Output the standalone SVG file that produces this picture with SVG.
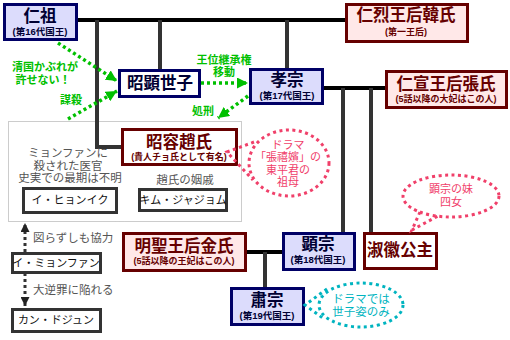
<svg xmlns="http://www.w3.org/2000/svg" width="510" height="340" viewBox="0 0 510 340">
<defs>
<style>
text{font-family:"Liberation Sans","Noto Sans CJK JP",sans-serif;text-anchor:middle;dominant-baseline:central}
.k{fill:#dcdcfc;stroke:#000066;stroke-width:3}
.w{fill:#fff;stroke:#000066;stroke-width:3}
.q{fill:#ffe8e8;stroke:#660000;stroke-width:3}
.wm{fill:#fff;stroke:#660000;stroke-width:3}
.gb{fill:#fff;stroke:#333;stroke-width:3}
.tk{font-size:16.5px;font-weight:700;fill:#000033}
.sk{font-size:9.5px;font-weight:700;fill:#000033}
.tq{font-size:16.5px;font-weight:700;fill:#660000}
.sq{font-size:9px;font-weight:700;fill:#660000}
.gt{font-size:11.5px;fill:#555}
.bt{font-size:11px;fill:#111}
.grn{font-size:11px;font-weight:700;fill:#00c000}
.pk{font-size:11px;fill:#f0406a}
.tl{font-size:11.5px;fill:#00b4c0}
.marry{stroke:#000;stroke-width:4;fill:none}
.child{stroke:#333;stroke-width:4;fill:none}
.ga{stroke:#00c000;stroke-width:3.5;stroke-dasharray:3 3;fill:none}
.ba{stroke:#333;stroke-width:3;stroke-dasharray:3 3;fill:none}
.pe{stroke:#f0406a;stroke-width:3;stroke-dasharray:3 3.5;fill:none}
.te{stroke:#00b4c0;stroke-width:3;stroke-dasharray:3 3.5;fill:none}
</style>
<marker id="mg" viewBox="0 0 10 10" refX="10" refY="5" markerWidth="11" markerHeight="11" markerUnits="userSpaceOnUse" orient="auto"><path d="M0,0L10,5L0,10z" fill="#00c000"/></marker>
<marker id="mb" viewBox="0 0 10 10" refX="10" refY="5" markerWidth="9" markerHeight="9" markerUnits="userSpaceOnUse" orient="auto"><path d="M0,0L10,5L0,10z" fill="#222"/></marker>
</defs>
<rect width="510" height="340" fill="#fff"/>

<rect x="8.5" y="121.5" width="233" height="100" fill="none" stroke="#999" stroke-width="1" stroke-dasharray="1 1"/>

<g id="connectors">
<path class="marry" d="M77 20H345"/>
<path class="child" d="M97 20V147H121"/>
<path class="child" d="M160 20V69"/>
<path class="child" d="M287 20V68"/>
<path class="marry" d="M323 88H385"/>
<path class="child" d="M343 88V232"/>
<path class="child" d="M371 88V232"/>
<path class="marry" d="M246 252H282"/>
<path class="child" d="M265 252V287"/>
<path class="ga" d="M58 43L117 81" marker-end="url(#mg)"/>
<path class="ga" d="M68 119L117 91" marker-end="url(#mg)"/>
<path class="ga" d="M201 83H248" marker-end="url(#mg)"/>
<path class="ga" d="M248 96L218 118" marker-end="url(#mg)"/>
<path class="ba" d="M25 252V223" marker-end="url(#mb)"/>
<path class="ba" d="M25 273V306" marker-end="url(#mb)"/>
</g>

<g id="labels">
<text class="grn" x="45" y="67">清国かぶれが</text>
<text class="grn" x="43" y="80">許せない！</text>
<text class="grn" x="71" y="100">謀殺</text>
<text class="grn" x="224" y="59.5">王位継承権</text>
<text class="grn" x="224" y="72">移動</text>
<text class="grn" x="203" y="111">処刑</text>
<text class="gt" x="68" y="153">ミョンファンに</text>
<text class="gt" x="68" y="165.5">殺された医官</text>
<text class="gt" x="70" y="178">史実での最期は不明</text>
<text class="gt" x="185" y="180">趙氏の姻戚</text>
<text class="gt" x="33" y="238" style="text-anchor:start">図らずしも協力</text>
<text class="gt" x="33" y="290" style="text-anchor:start">大逆罪に陥れる</text>
</g>

<g id="injo"><rect class="k" x="4.5" y="4.5" width="72" height="35"/><text class="tk" x="40" y="16">仁祖</text><text class="sk" x="40" y="31">(第16代国王)</text></g>
<g id="inryeol"><rect class="q" x="346.5" y="4.5" width="121" height="37"/><text class="tq" x="406" y="15">仁烈王后韓氏</text><text class="sq" x="406" y="32">(第一王后)</text></g>
<g id="sohyeon"><rect class="w" x="119.5" y="70.5" width="80" height="26"/><text class="tk" x="160" y="83">昭顕世子</text></g>
<g id="hyojong"><rect class="k" x="250.5" y="69.5" width="72" height="34"/><text class="tk" x="287" y="80">孝宗</text><text class="sk" x="287" y="95">(第17代国王)</text></g>
<g id="inseon"><rect class="q" x="386.5" y="71.5" width="120" height="36"/><text class="tq" x="446" y="84">仁宣王后張氏</text><text class="sq" x="446" y="99">(5話以降の大妃はこの人)</text></g>
<g id="soyong"><rect class="wm" x="122.5" y="129.5" width="114" height="35" stroke-width="4"/><text class="tq" x="179" y="142">昭容趙氏</text><text class="sq" x="179" y="157">(貴人チョ氏として有名)</text></g>
<g id="lee-hyeonik"><rect class="gb" x="23.5" y="188.5" width="93" height="24"/><text class="bt" x="70" y="200">イ・ヒョンイク</text></g>
<g id="kim-jajeom"><rect class="gb" x="139.5" y="189.5" width="87" height="21"/><text class="bt" x="183" y="200">キム・ジャジョム</text></g>
<g id="lee-myeonghwan"><rect class="gb" x="12.5" y="253.5" width="88" height="19"/><text class="bt" x="56" y="263">イ・ミョンファン</text></g>
<g id="kang-dojun"><rect class="gb" x="12.5" y="309.5" width="88" height="22"/><text class="bt" x="56" y="320">カン・ドジュン</text></g>
<g id="myeongseong"><rect class="q" x="123.5" y="233.5" width="122" height="37"/><text class="tq" x="184" y="246">明聖王后金氏</text><text class="sq" x="184" y="261">(5話以降の王妃はこの人)</text></g>
<g id="hyeonjong"><rect class="k" x="283.5" y="233.5" width="71" height="36"/><text class="tk" x="318" y="244">顕宗</text><text class="sk" x="318" y="259">(第18代国王)</text></g>
<g id="sukhwi"><rect class="wm" x="364.5" y="233.5" width="72" height="35"/><text class="tq" x="400" y="250">淑徽公主</text></g>
<g id="sukjong"><rect class="k" x="231.5" y="288.5" width="72" height="36"/><text class="tk" x="267" y="300">肅宗</text><text class="sk" x="267" y="315">(第19代国王)</text></g>

<g id="note-drama1">
<ellipse class="pe" cx="289" cy="163" rx="40" ry="33"/>
<path class="pe" d="M254 142L227 152L253 180"/>
<text class="pk" x="288" y="144.5">ドラマ</text>
<text class="pk" x="288" y="157">「張禧嬪」の</text>
<text class="pk" x="288" y="169.5">東平君の</text>
<text class="pk" x="288" y="182">祖母</text>
</g>
<g id="note-sister">
<ellipse class="pe" cx="451" cy="196" rx="48" ry="21"/>
<path class="pe" d="M420 212L412 230L438 216"/>
<text class="pk" x="451" y="189">顕宗の妹</text>
<text class="pk" x="451" y="202">四女</text>
</g>
<g id="note-drama2">
<ellipse class="te" cx="361" cy="305" rx="42" ry="22"/>
<path class="te" d="M327 289L305 305L324 319"/>
<text class="tl" x="361" y="298.5">ドラマでは</text>
<text class="tl" x="361" y="311.5">世子姿のみ</text>
</g>
</svg>
